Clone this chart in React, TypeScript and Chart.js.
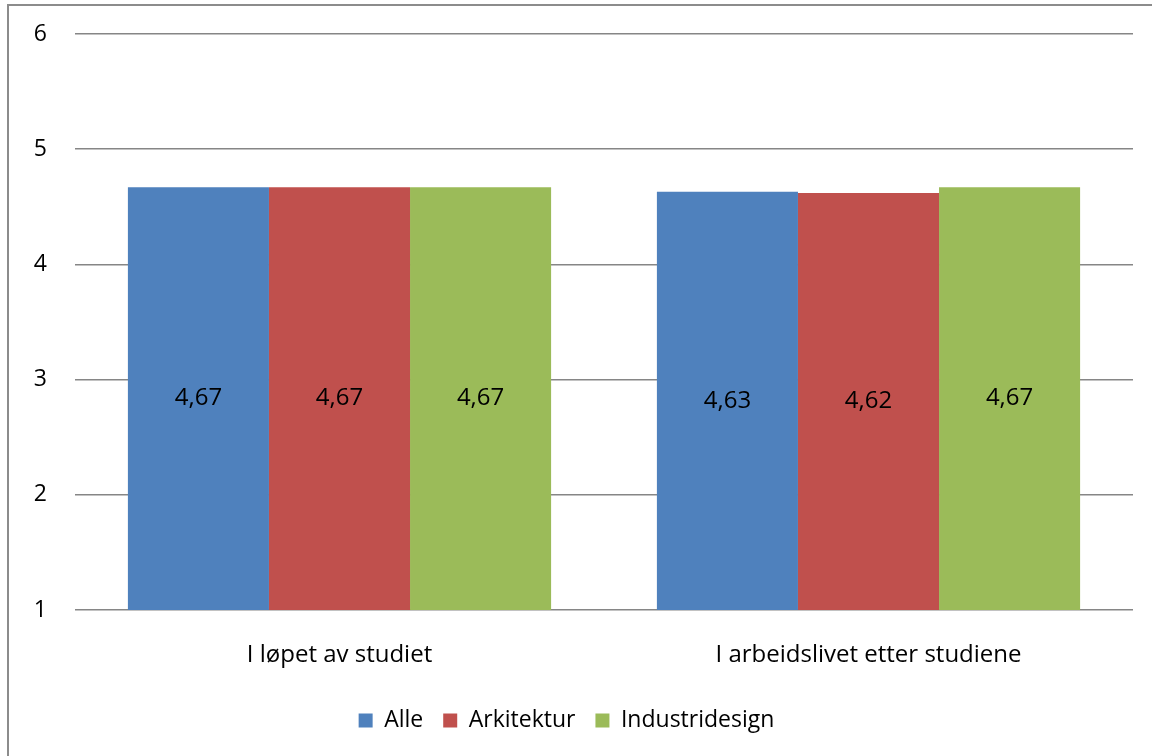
import React, { useEffect, useRef } from "react";
import { Chart, registerables } from "chart.js";

Chart.register(...registerables);

const categories = ["I løpet av studiet", "I arbeidslivet etter studiene"];
const seriesNames = ["Alle", "Arkitektur", "Industridesign"];
const alleValues = [4.67, 4.63];
const arkitekturValues = [4.67, 4.62];
const industridesignValues = [4.67, 4.67];
const colors = ["#4F81BD", "#C0504D", "#9BBB59"];
const yTicks = [1, 2, 3, 4, 5, 6];

const FONT = "'Open Sans', 'Noto Sans', sans-serif";

const frame = {
  id: "frame",
  beforeDraw(chart: any) {
    const ctx = chart.ctx;
    ctx.save();
    ctx.fillStyle = "#ffffff";
    ctx.fillRect(0, 0, chart.width, chart.height);
    ctx.strokeStyle = "#8c8c8c";
    ctx.lineWidth = 2;
    ctx.strokeRect(8, 5, chart.width + 20, chart.height + 20);
    ctx.restore();
  },
};

const valueLabels = {
  id: "valueLabels",
  afterDatasetsDraw(chart: any) {
    const ctx = chart.ctx;
    const y = chart.scales.y;
    ctx.save();
    ctx.font = `24px ${FONT}`;
    ctx.fillStyle = "#000000";
    ctx.textAlign = "center";
    ctx.textBaseline = "middle";
    chart.data.datasets.forEach((ds: any, i: number) => {
      const meta = chart.getDatasetMeta(i);
      meta.data.forEach((bar: any, j: number) => {
        const v = ds.data[j];
        const mid = (y.getPixelForValue(v) + y.getPixelForValue(y.min)) / 2;
        ctx.fillText(v.toFixed(2).replace(".", ","), bar.x, mid);
      });
    });
    ctx.restore();
  },
};

export default function App() {
  const ref = useRef<HTMLCanvasElement>(null);
  useEffect(() => {
    document.body.style.margin = "0";
    const values = [alleValues, arkitekturValues, industridesignValues];
    const chart = new Chart(ref.current!, {
      type: "bar",
      data: {
        labels: categories,
        datasets: seriesNames.map((name, i) => ({
          label: name,
          data: values[i],
          backgroundColor: colors[i],
          borderWidth: 0,
          categoryPercentage: 0.8,
          barPercentage: 1.0,
        })),
      },
      options: {
        animation: false,
        responsive: false,
        layout: { padding: { left: 0, right: 19, top: 34, bottom: 14 } },
        plugins: {
          legend: {
            position: "bottom",
            labels: {
              color: "#000",
              font: { family: FONT, size: 23 },
              boxWidth: 14,
              boxHeight: 14,
              padding: 20,
            },
          },
          tooltip: { enabled: false },
          title: { display: false },
        },
        scales: {
          x: {
            grid: { display: false },
            border: { display: false },
            ticks: { color: "#000", font: { family: FONT, size: 24 }, padding: 23 },
            afterFit(scale: any) {
              scale.height = 79;
              scale.paddingLeft = 0;
              scale.paddingRight = 0;
            },
          },
          y: {
            min: 1,
            max: 6,
            afterBuildTicks(scale: any) {
              scale.ticks = yTicks.map((v) => ({ value: v }));
            },
            grid: { color: "#868686", lineWidth: 1.5, drawTicks: false },
            border: { display: false },
            ticks: { color: "#000", font: { family: FONT, size: 23 }, padding: 28 },
            afterFit(scale: any) {
              scale.width = 75;
              scale.paddingTop = 0;
              scale.paddingBottom = 0;
            },
          },
        },
      },
      plugins: [frame, valueLabels],
    });
    return () => chart.destroy();
  }, []);
  return <canvas ref={ref} width={1152} height={756} style={{ display: "block" }} />;
}
